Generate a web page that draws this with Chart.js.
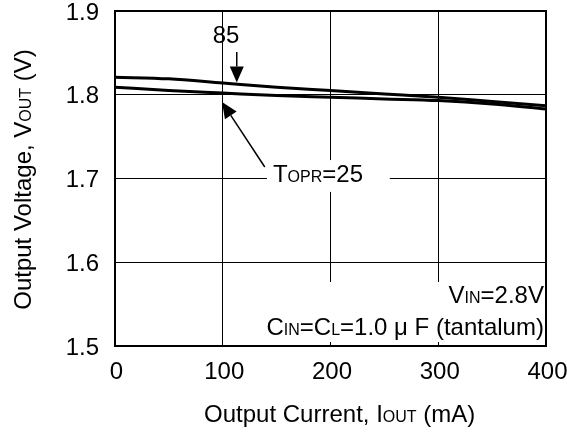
<!DOCTYPE html>
<html>
<head>
<meta charset="utf-8">
<script src="https://cdn.jsdelivr.net/npm/chart.js@4/dist/chart.umd.min.js"></script>
<style>
  html, body { margin: 0; padding: 0; background: #fff; }
  #wrap { width: 567px; height: 432px; }
</style>
</head>
<body>
<div id="wrap"><canvas id="voutChart" width="567" height="432"></canvas></div>
<script>
// Output current (mA)
const currents = [0, 50, 100, 150, 200, 250, 300, 350, 400];
// Output voltage (V) at Topr = 85 and 25
const vout85 = [1.821, 1.819, 1.814, 1.809, 1.805, 1.801, 1.797, 1.792, 1.787];
const vout25 = [1.809, 1.805, 1.802, 1.799, 1.797, 1.795, 1.793, 1.789, 1.783];
const xTicks = [0, 100, 200, 300, 400];
const yTicks = [1.5, 1.6, 1.7, 1.8, 1.9];

const FONT = 'Liberation Sans, Arial, sans-serif';
const BIG = 24, SMALL = 16;

// draw text made of [string, size] parts on a common baseline
function richText(ctx, parts, x, y, align) {
    let w = 0;
    parts.forEach(p => { ctx.font = p[1] + 'px ' + FONT; w += ctx.measureText(p[0]).width; });
    let cx = align === 'right' ? x - w : (align === 'center' ? x - w / 2 : x);
    ctx.textBaseline = 'alphabetic';
    ctx.textAlign = 'left';
    parts.forEach(p => {
        ctx.font = p[1] + 'px ' + FONT;
        ctx.fillText(p[0], cx, y);
        cx += ctx.measureText(p[0]).width;
    });
}

function arrow(ctx, x1, y1, x2, y2) {
    const a = Math.atan2(y2 - y1, x2 - x1);
    const len = 16, half = 7;
    const bx = x2 - len * Math.cos(a), by = y2 - len * Math.sin(a);
    ctx.beginPath();
    ctx.moveTo(x1, y1);
    ctx.lineTo(bx, by);
    ctx.lineWidth = 1.5;
    ctx.stroke();
    ctx.beginPath();
    ctx.moveTo(x2, y2);
    ctx.lineTo(bx + half * Math.sin(a), by - half * Math.cos(a));
    ctx.lineTo(bx - half * Math.sin(a), by + half * Math.cos(a));
    ctx.closePath();
    ctx.fill();
}

const notes = {
    id: 'notes',
    beforeDatasetsDraw(chart) {
        const ctx = chart.ctx, xs = chart.scales.x, ys = chart.scales.y;
        ctx.save();
        ctx.fillStyle = '#fff';
        // white boxes behind labels (hide grid)
        let l = xs.getPixelForValue(141), r = xs.getPixelForValue(255);
        let t = ys.getPixelForValue(1.722), b = ys.getPixelForValue(1.684);
        ctx.fillRect(l, t, r - l, b - t);
        l = xs.getPixelForValue(139); r = xs.getPixelForValue(399);
        t = ys.getPixelForValue(1.5764); b = ys.getPixelForValue(1.5048);
        ctx.fillRect(l, t, r - l, b - t);
        ctx.restore();
    },
    afterDraw(chart) {
        const ctx = chart.ctx, xs = chart.scales.x, ys = chart.scales.y, a = chart.chartArea;
        ctx.save();
        ctx.fillStyle = '#000';
        ctx.strokeStyle = '#000';
        // frame
        ctx.lineWidth = 2;
        ctx.strokeRect(a.left, a.top, a.right - a.left, a.bottom - a.top);

        // 85 label and arrow
        richText(ctx, [['85', BIG]], xs.getPixelForValue(103), ys.getPixelForValue(1.8725) + 9, 'center');
        arrow(ctx, xs.getPixelForValue(113), ys.getPixelForValue(1.851),
                   xs.getPixelForValue(113), ys.getPixelForValue(1.8145));

        // Topr=25 label and arrow
        richText(ctx, [['T', BIG], ['OPR', SMALL], ['=25', BIG]],
                 xs.getPixelForValue(146.6), ys.getPixelForValue(1.6958), 'left');
        arrow(ctx, xs.getPixelForValue(139), ys.getPixelForValue(1.7137),
                   xs.getPixelForValue(99.3), ys.getPixelForValue(1.7913));

        // conditions
        richText(ctx, [['V', BIG], ['IN', SMALL], ['=2.8V', BIG]],
                 xs.getPixelForValue(398.1), ys.getPixelForValue(1.5513), 'right');
        richText(ctx, [['C', BIG], ['IN', SMALL], ['=C', BIG], ['L', SMALL], ['=1.0 \u03bc F (tantalum)', BIG]],
                 xs.getPixelForValue(398.1), ys.getPixelForValue(1.5131), 'right');

        // axis titles
        richText(ctx, [['Output Current, I', BIG], ['OUT', SMALL], [' (mA)', BIG]],
                 xs.getPixelForValue(208.5), 422, 'center');
        ctx.translate(31, (a.top + a.bottom) / 2 + 1);
        ctx.rotate(-Math.PI / 2);
        richText(ctx, [['Output Voltage, V', BIG], ['OUT', SMALL], [' (V)', BIG]], 0, 0, 'center');
        ctx.restore();
    }
};

const ctx = document.getElementById('voutChart').getContext('2d');
new Chart(ctx, {
    type: 'line',
    data: {
        datasets: [
            {
                label: 'Topr=85',
                data: currents.map((c, i) => ({ x: c, y: vout85[i] })),
                borderColor: '#000',
                borderWidth: 3,
                pointRadius: 0,
                cubicInterpolationMode: 'monotone',
                fill: false
            },
            {
                label: 'Topr=25',
                data: currents.map((c, i) => ({ x: c, y: vout25[i] })),
                borderColor: '#000',
                borderWidth: 3,
                pointRadius: 0,
                cubicInterpolationMode: 'monotone',
                fill: false
            }
        ]
    },
    options: {
        responsive: false,
        animation: false,
        layout: { padding: { left: 0, top: 11, right: 21, bottom: 0 } },
        plugins: {
            legend: { display: false },
            tooltip: { enabled: false }
        },
        scales: {
            x: {
                type: 'linear',
                min: 0,
                max: 400,
                afterBuildTicks: s => { s.ticks = xTicks.map(v => ({ value: v })); },
                afterFit: s => { s.height = 86; s.paddingLeft = 0; s.paddingRight = 0; },
                grid: { color: '#000', lineWidth: 1, drawTicks: false },
                border: { display: false },
                ticks: { color: '#000', font: { family: FONT, size: BIG }, padding: 12,
                         labelOffset: 1.5, maxRotation: 0 }
            },
            y: {
                min: 1.5,
                max: 1.9,
                afterBuildTicks: s => { s.ticks = yTicks.map(v => ({ value: v })); },
                afterFit: s => { s.width = 115; s.paddingTop = 0; s.paddingBottom = 0; },
                grid: { color: '#000', lineWidth: 1, drawTicks: false },
                border: { display: false },
                ticks: { color: '#000', font: { family: FONT, size: BIG }, padding: 16,
                         labelOffset: 2, callback: v => v.toFixed(1) }
            }
        }
    },
    plugins: [notes]
});
</script>
</body>
</html>
